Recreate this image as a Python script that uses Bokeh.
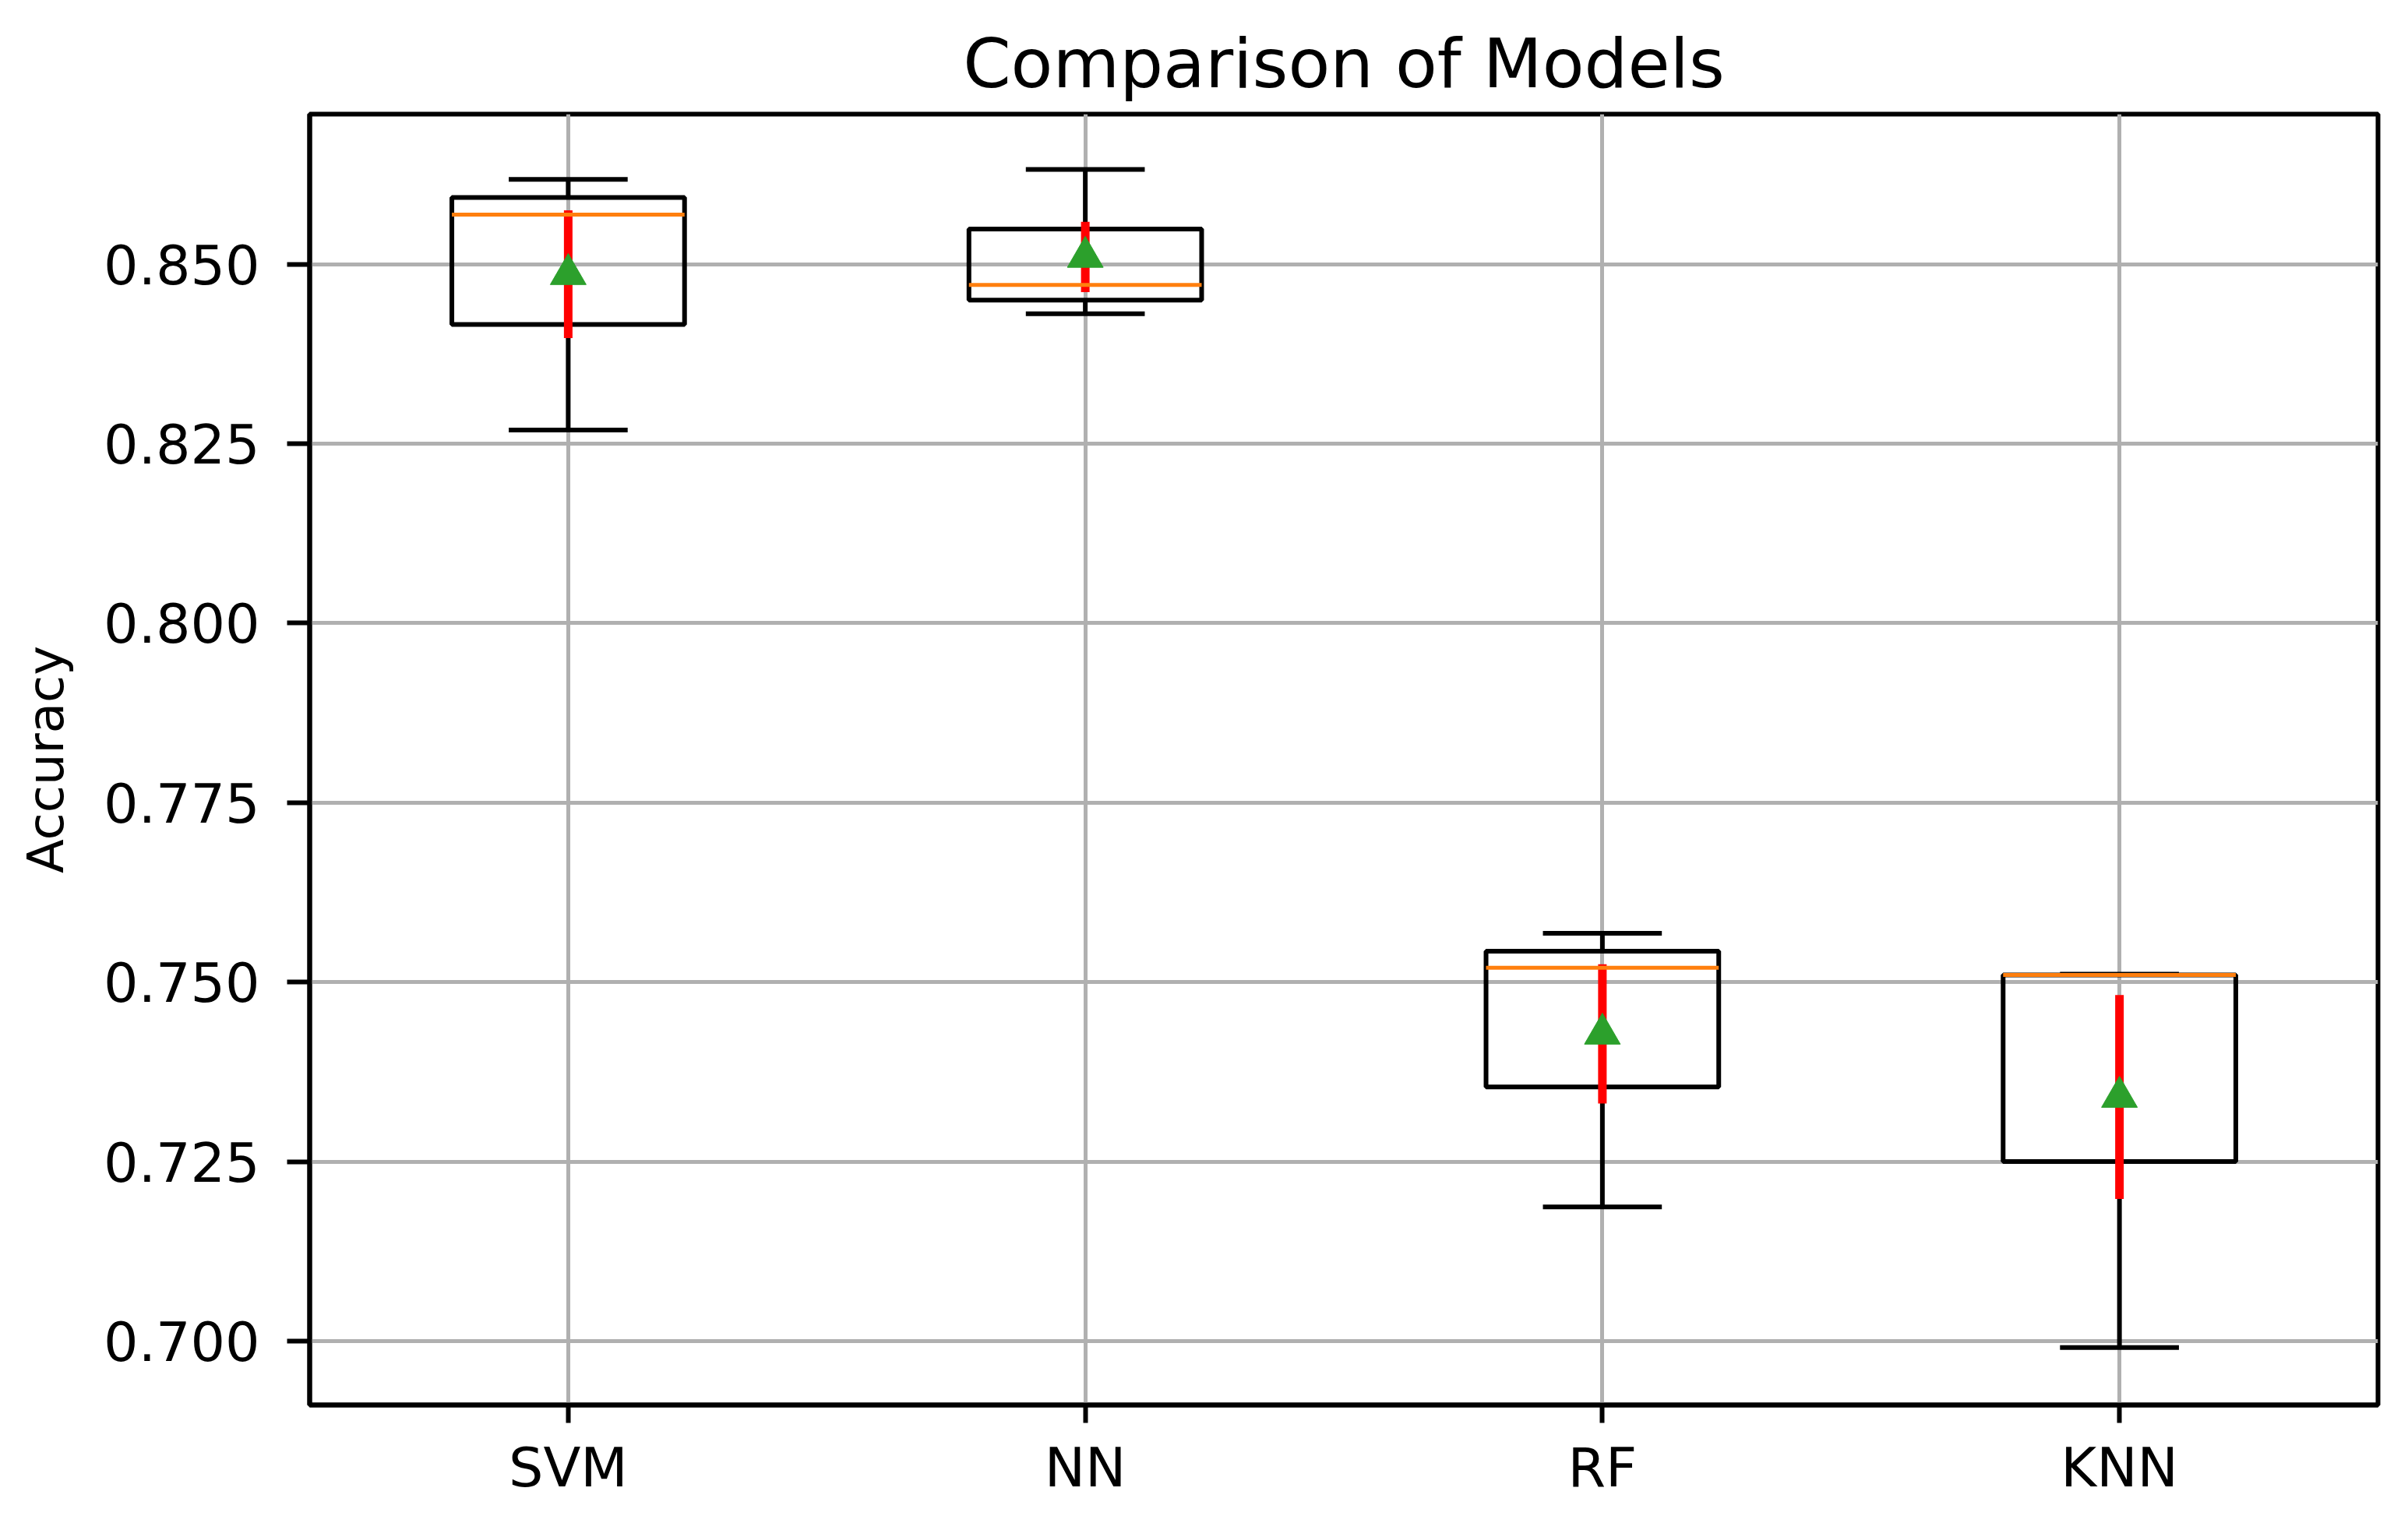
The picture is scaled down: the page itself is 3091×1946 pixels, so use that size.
from bokeh.plotting import figure
from bokeh.models import ColumnDataSource, FixedTicker, FactorRange, Range1d, NumeralTickFormatter
from bokeh.transform import dodge
from bokeh.embed import file_html
from bokeh.resources import INLINE

# ---- data ----
models = ["SVM", "NN", "RF", "KNN"]
whisker_low = [0.8269, 0.8431, 0.7187, 0.6991]
q1 = [0.8416, 0.8450, 0.7354, 0.7250]
median = [0.8569, 0.8471, 0.7520, 0.7510]
q3 = [0.8593, 0.8549, 0.7543, 0.7510]
whisker_high = [0.8618, 0.8632, 0.7568, 0.7511]
mean = [0.8486, 0.8510, 0.7428, 0.7340]
std = [0.0089, 0.0049, 0.0097, 0.0142]
y_ticks = [0.700, 0.725, 0.750, 0.775, 0.800, 0.825, 0.850]

FONT = "DejaVu Sans"

src = ColumnDataSource(dict(
    model=models, lo=whisker_low, q1=q1, med=median, q3=q3, hi=whisker_high,
    mean=mean,
    mlo=[m - s for m, s in zip(mean, std)],
    mhi=[m + s for m, s in zip(mean, std)],
))

p = figure(
    x_range=FactorRange(*models),
    y_range=Range1d(0.6911, 0.8709),
    width=3075, height=1930,
    output_backend="svg", toolbar_location=None,
    min_border_left=397, min_border_right=23,
    min_border_top=146, min_border_bottom=127,
    title="Comparison of Models",
)
p.background_fill_color = "white"
p.border_fill_color = "white"

BOX_W = 0.45
CAP_W = 0.23
LW = 6

# box
p.vbar(x="model", width=BOX_W, top="q3", bottom="q1", fill_alpha=0,
       line_color="black", line_width=LW, source=src)
# whiskers
p.segment(x0="model", y0="q3", x1="model", y1="hi", line_color="black",
          line_width=LW, source=src)
p.segment(x0="model", y0="q1", x1="model", y1="lo", line_color="black",
          line_width=LW, source=src)
# caps
p.segment(x0=dodge("model", -CAP_W / 2, range=p.x_range), y0="hi",
          x1=dodge("model", CAP_W / 2, range=p.x_range), y1="hi",
          line_color="black", line_width=LW, source=src)
p.segment(x0=dodge("model", -CAP_W / 2, range=p.x_range), y0="lo",
          x1=dodge("model", CAP_W / 2, range=p.x_range), y1="lo",
          line_color="black", line_width=LW, source=src)
# mean +/- std
p.segment(x0="model", y0="mlo", x1="model", y1="mhi", line_color="#ff0000",
          line_width=11, line_cap="butt", source=src)
# median
p.segment(x0=dodge("model", -BOX_W / 2, range=p.x_range), y0="med",
          x1=dodge("model", BOX_W / 2, range=p.x_range), y1="med",
          line_color="#ff7f0e", line_width=5, source=src)
# mean marker
p.scatter(x="model", y="mean", marker="triangle", size=46,
          fill_color="#2ca02c", line_color="#2ca02c", line_width=1, source=src)

# grid
for g in (p.xgrid, p.ygrid):
    g.grid_line_color = "#b0b0b0"
    g.grid_line_width = 5
    g.grid_line_alpha = 1.0

# axes
p.yaxis.ticker = FixedTicker(ticks=y_ticks)
p.yaxis.formatter = NumeralTickFormatter(format="0.000")
for ax in (p.xaxis, p.yaxis):
    ax.axis_line_width = LW
    ax.axis_line_color = "black"
    ax.major_tick_line_width = LW
    ax.major_tick_line_color = "black"
    ax.major_tick_in = 0
    ax.minor_tick_line_color = None
    ax.major_label_text_font = FONT
    ax.major_label_text_font_size = "70px"
    ax.major_label_text_color = "black"

p.xaxis.major_tick_out = 23
p.xaxis.major_label_standoff = 16
p.yaxis.major_tick_out = 29
p.yaxis.major_label_standoff = 35

p.yaxis.axis_label = "Accuracy"
p.yaxis.axis_label_text_font = FONT
p.yaxis.axis_label_text_font_size = "64px"
p.yaxis.axis_label_text_font_style = "normal"
p.yaxis.axis_label_text_color = "black"
p.yaxis.axis_label_standoff = 34

p.outline_line_color = "black"
p.outline_line_width = LW
p.outline_line_alpha = 1.0

p.title.align = "center"
p.title.text_font = FONT
p.title.text_font_size = "88px"
p.title.text_font_style = "normal"
p.title.text_color = "black"
p.title.standoff = 28

open("out.html", "w").write(file_html(p, INLINE))
